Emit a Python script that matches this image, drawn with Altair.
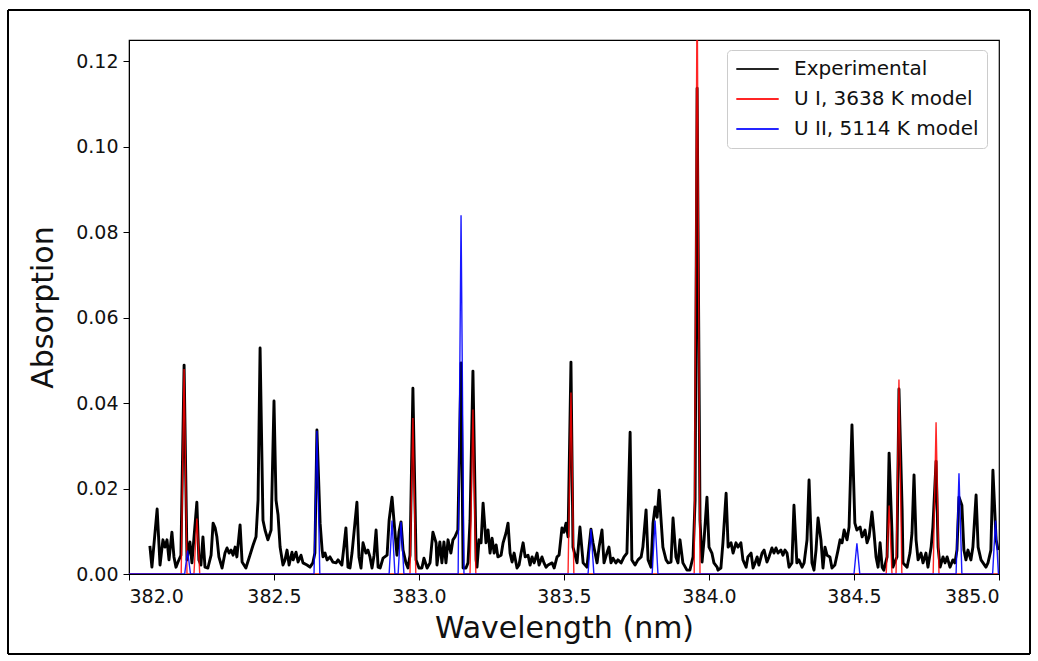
import altair as alt
import pandas as pd

# ---------------- data ----------------
EXP_WL = [
    382.072, 382.079, 382.097, 382.107, 382.117, 382.124, 382.131, 382.138, 382.148, 382.155,
    382.162, 382.169, 382.179, 382.190, 382.200, 382.210, 382.217, 382.234, 382.241, 382.248,
    382.255, 382.262, 382.272, 382.283, 382.290, 382.297, 382.303, 382.310, 382.321, 382.331,
    382.338, 382.345, 382.352, 382.359, 382.366, 382.372, 382.383, 382.390, 382.403, 382.417,
    382.428, 382.438, 382.445, 382.452, 382.462, 382.469, 382.479, 382.490, 382.500, 382.507,
    382.514, 382.521, 382.531, 382.538, 382.545, 382.552, 382.562, 382.566, 382.576, 382.583,
    382.593, 382.600, 382.614, 382.624, 382.634, 382.641, 382.648, 382.659, 382.666, 382.669,
    382.676, 382.683, 382.693, 382.703, 382.714, 382.721, 382.734, 382.741, 382.748, 382.755,
    382.762, 382.769, 382.779, 382.786, 382.793, 382.800, 382.807, 382.817, 382.824, 382.831,
    382.838, 382.845, 382.852, 382.859, 382.866, 382.876, 382.890, 382.897, 382.907, 382.914,
    382.924, 382.931, 382.938, 382.945, 382.955, 382.962, 382.969, 382.979, 382.990, 383.000,
    383.010, 383.017, 383.028, 383.038, 383.048, 383.059, 383.062, 383.072, 383.079, 383.086,
    383.093, 383.100, 383.110, 383.117, 383.124, 383.134, 383.145, 383.152, 383.162, 383.169,
    383.176, 383.186, 383.197, 383.200, 383.207, 383.214, 383.221, 383.231, 383.238, 383.245,
    383.252, 383.259, 383.266, 383.272, 383.283, 383.290, 383.300, 383.307, 383.314, 383.321,
    383.328, 383.338, 383.345, 383.352, 383.359, 383.366, 383.376, 383.383, 383.390, 383.397,
    383.407, 383.414, 383.424, 383.431, 383.438, 383.445, 383.459, 383.466, 383.476, 383.483,
    383.493, 383.500, 383.507, 383.514, 383.524, 383.531, 383.545, 383.555, 383.566, 383.579,
    383.593, 383.600, 383.614, 383.621, 383.631, 383.638, 383.648, 383.655, 383.662, 383.669,
    383.679, 383.686, 383.697, 383.707, 383.717, 383.728, 383.734, 383.745, 383.755, 383.766,
    383.772, 383.783, 383.790, 383.800, 383.807, 383.814, 383.821, 383.828, 383.834, 383.841,
    383.852, 383.859, 383.869, 383.876, 383.886, 383.893, 383.900, 383.910, 383.924, 383.934,
    383.945, 383.952, 383.959, 383.969, 383.976, 383.983, 383.993, 384.000, 384.010, 384.017,
    384.028, 384.031, 384.041, 384.048, 384.059, 384.066, 384.076, 384.083, 384.093, 384.100,
    384.110, 384.117, 384.128, 384.134, 384.145, 384.152, 384.159, 384.166, 384.172, 384.183,
    384.190, 384.200, 384.207, 384.217, 384.224, 384.231, 384.238, 384.248, 384.255, 384.262,
    384.269, 384.276, 384.286, 384.293, 384.303, 384.310, 384.321, 384.328, 384.338, 384.345,
    384.355, 384.362, 384.369, 384.376, 384.386, 384.393, 384.400, 384.407, 384.417, 384.424,
    384.434, 384.445, 384.452, 384.459, 384.466, 384.476, 384.483, 384.493, 384.503, 384.510,
    384.521, 384.528, 384.538, 384.545, 384.552, 384.562, 384.569, 384.576, 384.583, 384.590,
    384.597, 384.603, 384.614, 384.621, 384.631, 384.634, 384.648, 384.655, 384.666, 384.669,
    384.683, 384.693, 384.700, 384.707, 384.714, 384.721, 384.731, 384.738, 384.748, 384.755,
    384.766, 384.772, 384.783, 384.790, 384.797, 384.807, 384.814, 384.821, 384.831, 384.841,
    384.848, 384.855, 384.862, 384.872, 384.879, 384.886, 384.893, 384.903, 384.910, 384.921,
    384.928, 384.938, 384.945, 384.955, 384.962, 384.972, 384.979, 384.990, 384.997,
]
EXP_ABS = [
    0.0066, 0.0016, 0.0152, 0.0021, 0.0080, 0.0063, 0.0080, 0.0033, 0.0098, 0.0040,
    0.0016, 0.0028, 0.0044, 0.0489, 0.0033, 0.0075, 0.0026, 0.0168, 0.0033, 0.0021,
    0.0087, 0.0016, 0.0014, 0.0044, 0.0119, 0.0108, 0.0087, 0.0040, 0.0014, 0.0049,
    0.0061, 0.0049, 0.0056, 0.0044, 0.0063, 0.0040, 0.0115, 0.0028, 0.0014, 0.0044,
    0.0068, 0.0087, 0.0173, 0.0529, 0.0126, 0.0103, 0.0080, 0.0103, 0.0405, 0.0173,
    0.0138, 0.0063, 0.0021, 0.0033, 0.0056, 0.0021, 0.0051, 0.0033, 0.0051, 0.0028,
    0.0044, 0.0026, 0.0021, 0.0016, 0.0026, 0.0049, 0.0337, 0.0119, 0.0056, 0.0040,
    0.0049, 0.0033, 0.0040, 0.0028, 0.0026, 0.0033, 0.0021, 0.0063, 0.0108, 0.0016,
    0.0014, 0.0049, 0.0119, 0.0168, 0.0040, 0.0014, 0.0073, 0.0049, 0.0056, 0.0040,
    0.0014, 0.0044, 0.0103, 0.0016, 0.0014, 0.0037, 0.0044, 0.0126, 0.0180, 0.0122,
    0.0044, 0.0098, 0.0122, 0.0056, 0.0026, 0.0014, 0.0044, 0.0435, 0.0033, 0.0014,
    0.0014, 0.0037, 0.0014, 0.0026, 0.0098, 0.0073, 0.0021, 0.0075, 0.0026, 0.0075,
    0.0026, 0.0080, 0.0049, 0.0080, 0.0087, 0.0103, 0.0494, 0.0014, 0.0014, 0.0026,
    0.0126, 0.0475, 0.0033, 0.0016, 0.0080, 0.0073, 0.0166, 0.0073, 0.0103, 0.0049,
    0.0084, 0.0049, 0.0068, 0.0040, 0.0044, 0.0073, 0.0096, 0.0119, 0.0049, 0.0028,
    0.0049, 0.0014, 0.0021, 0.0049, 0.0073, 0.0040, 0.0044, 0.0021, 0.0040, 0.0026,
    0.0049, 0.0021, 0.0040, 0.0026, 0.0016, 0.0021, 0.0026, 0.0014, 0.0040, 0.0044,
    0.0108, 0.0098, 0.0119, 0.0087, 0.0496, 0.0063, 0.0026, 0.0110, 0.0026, 0.0016,
    0.0105, 0.0073, 0.0026, 0.0063, 0.0103, 0.0026, 0.0049, 0.0063, 0.0026, 0.0037,
    0.0026, 0.0033, 0.0026, 0.0040, 0.0049, 0.0332, 0.0033, 0.0021, 0.0033, 0.0040,
    0.0063, 0.0150, 0.0033, 0.0016, 0.0119, 0.0157, 0.0133, 0.0196, 0.0133, 0.0063,
    0.0033, 0.0026, 0.0028, 0.0131, 0.0040, 0.0026, 0.0080, 0.0026, 0.0009, 0.0009,
    0.0040, 0.0173, 0.1137, 0.0126, 0.0028, 0.0080, 0.0180, 0.0063, 0.0049, 0.0026,
    0.0016, 0.0009, 0.0014, 0.0073, 0.0189, 0.0063, 0.0073, 0.0049, 0.0073, 0.0063,
    0.0073, 0.0033, 0.0016, 0.0040, 0.0049, 0.0014, 0.0026, 0.0040, 0.0021, 0.0049,
    0.0056, 0.0028, 0.0040, 0.0061, 0.0049, 0.0061, 0.0049, 0.0056, 0.0044, 0.0056,
    0.0049, 0.0016, 0.0026, 0.0161, 0.0026, 0.0033, 0.0016, 0.0026, 0.0080, 0.0220,
    0.0026, 0.0009, 0.0056, 0.0131, 0.0080, 0.0014, 0.0063, 0.0044, 0.0040, 0.0014,
    0.0021, 0.0056, 0.0080, 0.0073, 0.0103, 0.0080, 0.0110, 0.0349, 0.0119, 0.0103,
    0.0110, 0.0087, 0.0103, 0.0073, 0.0087, 0.0145, 0.0096, 0.0040, 0.0016, 0.0073,
    0.0016, 0.0009, 0.0040, 0.0283, 0.0096, 0.0016, 0.0040, 0.0433, 0.0150, 0.0026,
    0.0016, 0.0049, 0.0096, 0.0232, 0.0080, 0.0033, 0.0049, 0.0026, 0.0049, 0.0016,
    0.0063, 0.0110, 0.0264, 0.0063, 0.0016, 0.0040, 0.0026, 0.0040, 0.0016, 0.0033,
    0.0026, 0.0056, 0.0180, 0.0161, 0.0056, 0.0033, 0.0056, 0.0033, 0.0063, 0.0185,
    0.0063, 0.0033, 0.0026, 0.0016, 0.0026, 0.0056, 0.0243, 0.0080, 0.0056,
]

# model line positions (nm) and peak heights
UI_CENTER = [382.190, 382.234, 382.979, 383.186, 383.524, 383.959, 384.621, 384.655, 384.783]
UI_HEIGHT = [0.0480, 0.0130, 0.0365, 0.0385, 0.0425, 0.1400, 0.0160, 0.0455, 0.0355]
UII_CENTER = [382.202, 382.648, 382.907, 382.938, 383.145, 383.593, 383.814, 384.510, 384.862, 384.988]
UII_HEIGHT = [0.0055, 0.0335, 0.0125, 0.0122, 0.0840, 0.0105, 0.0125, 0.0072, 0.0236, 0.0125]

SERIES = ["Experimental", "U I, 3638 K model", "U II, 5114 K model"]
COLORS = ["#000000", "#ff0000", "#0000ff"]
X_TICKS = [382.0, 382.5, 383.0, 383.5, 384.0, 384.5, 385.0]
Y_TICKS = [0.00, 0.02, 0.04, 0.06, 0.08, 0.10, 0.12]


def model_rows(centers, heights, name):
    half = 0.010
    rows = [(382.0, 0.0), (385.0, 0.0)]
    for c, h in zip(centers, heights):
        rows += [(c - half, 0.0), (c, h), (c + half, 0.0)]
    rows.sort()
    return pd.DataFrame({"wl": [r[0] for r in rows], "ab": [r[1] for r in rows], "series": name})


exp_df = pd.DataFrame({"wl": EXP_WL, "ab": EXP_ABS, "series": SERIES[0]})
ui_df = model_rows(UI_CENTER, UI_HEIGHT, SERIES[1])
uii_df = model_rows(UII_CENTER, UII_HEIGHT, SERIES[2])

FONT = "DejaVu Sans"

x_enc = alt.X(
    "wl:Q",
    scale=alt.Scale(domain=[382.0, 385.0], nice=False, zero=False),
    axis=alt.Axis(
        title="Wavelength (nm)", values=X_TICKS, format=".1f",
        labelFontSize=19, titleFontSize=30, titleFontWeight="normal",
        tickSize=6, labelPadding=7, titlePadding=7, grid=False,
        labelFont=FONT, titleFont=FONT, domainColor="black", tickColor="black",
        labelColor="#111", titleColor="#111",
    ),
)
y_enc = alt.Y(
    "ab:Q",
    scale=alt.Scale(domain=[0, 0.125], nice=False),
    axis=alt.Axis(
        title="Absorption", values=Y_TICKS, format=".2f",
        labelFontSize=19, titleFontSize=30, titleFontWeight="normal",
        tickSize=6, labelPadding=5, titlePadding=17, grid=False,
        labelFont=FONT, titleFont=FONT, domainColor="black", tickColor="black",
        labelColor="#111", titleColor="#111",
    ),
)
color_enc = alt.Color(
    "series:N",
    scale=alt.Scale(domain=SERIES, range=COLORS),
    legend=alt.Legend(
        title=None, orient="none", legendX=598, legendY=10,
        symbolType="stroke", symbolSize=1800, symbolStrokeWidth=2,
        clipHeight=22, rowPadding=8, labelFontSize=20, labelFont=FONT,
        labelLimit=0, labelOffset=14, padding=8, strokeColor="#cccccc", cornerRadius=4,
        fillColor="rgba(255,255,255,0.85)", labelColor="#111",
    ),
)

exp_line = alt.Chart(exp_df).mark_line(strokeWidth=2.9, clip=True, strokeJoin="round").encode(
    x=x_enc, y=y_enc, color=color_enc, order="wl:Q"
)
ui_line = alt.Chart(ui_df).mark_line(strokeWidth=1.4, clip=True, opacity=0.85).encode(
    x=x_enc, y=y_enc, color=color_enc, order="wl:Q"
)
uii_line = alt.Chart(uii_df).mark_line(strokeWidth=1.4, clip=True, opacity=0.9).encode(
    x=x_enc, y=y_enc, color=color_enc, order="wl:Q"
)

# outer figure frame (decoration, pixel positions relative to plot area)
frame_left = alt.Chart(exp_df).mark_rule(color="black", strokeWidth=2).encode(
    x=alt.value(-121), y=alt.value(-30), y2=alt.value(614))
frame_right = alt.Chart(exp_df).mark_rule(color="black", strokeWidth=2).encode(
    x=alt.value(901), y=alt.value(-30), y2=alt.value(614))
frame_top = alt.Chart(exp_df).mark_rule(color="black", strokeWidth=2).encode(
    y=alt.value(-30), x=alt.value(-121), x2=alt.value(901))
frame_bottom = alt.Chart(exp_df).mark_rule(color="black", strokeWidth=2).encode(
    y=alt.value(614), x=alt.value(-121), x2=alt.value(901))

chart = (
    alt.layer(exp_line, ui_line, uii_line, frame_left, frame_right, frame_top, frame_bottom)
    .properties(
        width=870, height=534,
        autosize=alt.AutoSizeParams(type="none"),
        padding={"left": 129, "top": 40, "right": 39, "bottom": 87},
        background="white",
    )
    .configure_view(stroke="black", strokeWidth=1.2)
)

chart.save("out.html", embed_options={"renderer": "svg", "actions": False})
